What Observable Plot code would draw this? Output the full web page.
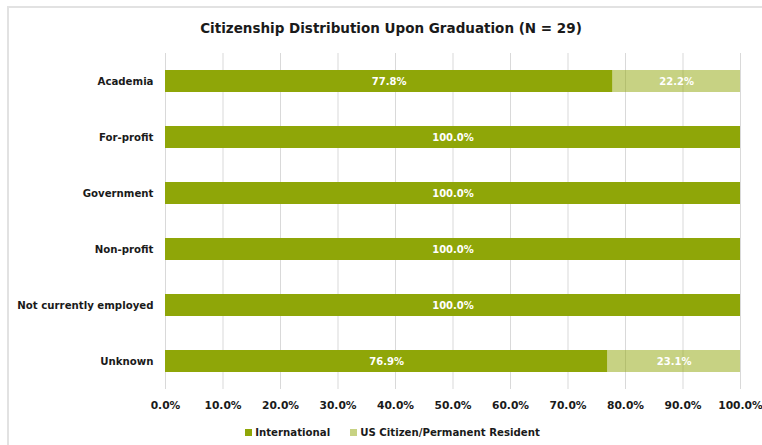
<!DOCTYPE html>
<html>
<head>
<meta charset="utf-8">
<script src="https://cdn.jsdelivr.net/npm/d3@7"></script>
<script src="https://cdn.jsdelivr.net/npm/@observablehq/plot@0.6"></script>
<style>
  html, body { margin: 0; padding: 0; background: #fff; }
  body { width: 762px; height: 445px; position: relative; overflow: hidden; font-family: "DejaVu Sans", sans-serif; }
  #frameTop { position: absolute; left: 7px; top: 6px; width: 755px; height: 2px; background: #e2e2e2; }
  #frameLeft { position: absolute; left: 7px; top: 6px; width: 2px; height: 439px; background: #e2e2e2; }
  #title { position: absolute; left: 0; top: 20px; width: 782px; text-align: center; font-weight: bold; font-size: 13.5px; color: #1a1a1a; }
  #chart { position: absolute; left: 0; top: 48px; }
  #legend { position: absolute; left: 0; top: 427px; width: 785px; text-align: center; font-size: 10.2px; font-weight: bold; color: #1a1a1a; }
  .sw { display: inline-block; width: 7px; height: 7px; margin-right: 3px; vertical-align: 0px; }
  .item { display: inline-block; margin: 0 10px; }
</style>
</head>
<body>
<div id="frameTop"></div>
<div id="frameLeft"></div>
<div id="title">Citizenship Distribution Upon Graduation (N = 29)</div>
<div id="chart"></div>
<div id="legend"></div>
<script>
const categories = ["Academia", "For-profit", "Government", "Non-profit", "Not currently employed", "Unknown"];
const series = ["International", "US Citizen/Permanent Resident"];
const international = [77.8, 100.0, 100.0, 100.0, 100.0, 76.9];
const usCitizen = [22.2, 0, 0, 0, 0, 23.1];
const xTicks = [0, 10, 20, 30, 40, 50, 60, 70, 80, 90, 100];
const colors = ["#8fa608", "#8fa608"];
const opacities = [1, 0.5];

const rows = [];
categories.forEach((c, i) => {
  rows.push({category: c, series: series[0], value: international[i] / 100});
  rows.push({category: c, series: series[1], value: usCitizen[i] / 100});
});

const chart = Plot.plot({
  width: 762,
  height: 370,
  marginLeft: 165,
  marginRight: 22,
  marginTop: 5,
  marginBottom: 29,
  style: {fontFamily: "'DejaVu Sans', sans-serif", fontSize: "10.2px", fontWeight: "bold", color: "#1a1a1a", background: "transparent"},
  x: {domain: [0, 1], ticks: xTicks.map(t => t / 100), tickFormat: d => (d * 100).toFixed(1) + "%", tickSize: 0, tickPadding: 12, label: null, fontSize: "10.7px"},
  y: {domain: categories, padding: 0.6, paddingOuter: 0.3, tickSize: 0, tickPadding: 12, label: null},
  color: {domain: series, range: colors},
  opacity: {type: "identity"},
  marks: [
    Plot.gridX(xTicks.map(t => t / 100), {stroke: "#d9d9d9", strokeOpacity: 1, strokeWidth: 1}),
    Plot.barX(rows, Plot.stackX({
      x: "value", y: "category", fill: "series", order: series,
      fillOpacity: d => opacities[series.indexOf(d.series)]
    })),
    Plot.text(rows.filter(d => d.value > 0), Plot.stackX({
      x: "value", y: "category", z: "series", order: series,
      text: d => (d.value * 100).toFixed(1) + "%",
      fill: "white", fontWeight: "bold", fontSize: 10
    }))
  ]
});
chart.querySelectorAll("g[aria-label='x-axis tick label'] text, g[aria-label='x-axis'] text").forEach(t => t.style.fontSize = "10.7px");
document.getElementById("chart").appendChild(chart);

const legend = document.getElementById("legend");
series.forEach((s, i) => {
  const item = document.createElement("span");
  item.className = "item";
  const sw = document.createElement("span");
  sw.className = "sw";
  sw.style.background = colors[i];
  sw.style.opacity = opacities[i];
  item.appendChild(sw);
  item.appendChild(document.createTextNode(s));
  legend.appendChild(item);
});
</script>
</body>
</html>
